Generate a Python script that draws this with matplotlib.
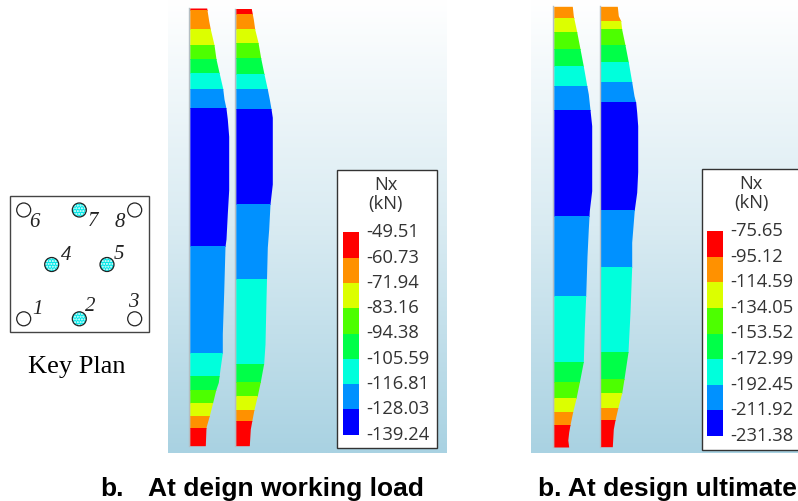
import numpy as np
import matplotlib
matplotlib.use("Agg")
import matplotlib.pyplot as plt
from matplotlib.patches import Rectangle, Circle

plt.rcParams["hatch.linewidth"] = 1.0

band_colors = ["#ff0000", "#ff9100", "#dcff00", "#4dff00", "#00ff48", "#00ffdc", "#0091ff", "#0000ff"]

# legend values
working_levels = ["-49.51", "-60.73", "-71.94", "-83.16", "-94.38", "-105.59", "-116.81", "-128.03", "-139.24"]
ultimate_levels = ["-75.65", "-95.12", "-114.59", "-134.05", "-153.52", "-172.99", "-192.45", "-211.92", "-231.38"]

# colour index of each band from the top of a pile to the bottom
order_red_top = [0, 1, 2, 3, 4, 5, 6, 7, 6, 5, 4, 3, 2, 1, 0]
order_no_red = [1, 2, 3, 4, 5, 6, 7, 6, 5, 4, 3, 2, 1, 0]

# band edges (y) and outline of each pile
w1_edges = [9, 11, 30, 46, 60, 73.5, 89.5, 108.7, 247.4, 354, 377, 391, 404, 417, 429, 446.7]
w1_y = [9, 21.7, 30, 45.7, 60, 73.3, 89.3, 100, 109.3, 120, 137.3, 190.7, 214.7, 240, 247.4, 293.3, 335, 354, 370, 383.3, 391, 403.3, 416.7, 428.3, 446.7]
w1_x = [206.7, 208.7, 210.3, 214, 216, 219, 222.7, 224, 226, 227.3, 228.7, 228.7, 227.3, 226, 225, 223.7, 222.3, 222.3, 220, 218.3, 215.7, 212.7, 209.3, 206, 205.3]

w2_edges = [9.5, 14.5, 30, 44, 59, 75, 90, 110, 205, 280, 364.5, 383, 397, 410.5, 422, 446.7]
w2_y = [9.5, 20, 30, 43.3, 59, 75, 90, 100, 109.7, 118.3, 185, 205, 230, 248.3, 300, 345, 364.3, 382.7, 396.7, 410.3, 422.3, 430, 446.7]
w2_x = [251.3, 253.3, 254.7, 258, 260.7, 264, 267.3, 269.3, 271, 272.3, 272.3, 270, 268.7, 267.3, 266, 265, 263.7, 260.3, 257.3, 254, 251.7, 250.3, 249.3]

u1_edges = [7.3, 19, 33, 49.7, 67, 86.5, 110.7, 216.7, 297, 363, 383.3, 399.3, 412.7, 426, 448]
u1_y = [7.3, 16.7, 32.7, 49.7, 67, 86.3, 95, 110.7, 126.7, 191.7, 211.7, 230, 257, 297, 330, 362.7, 383.3, 399.3, 412.7, 425.7, 433, 441, 448]
u1_x = [572.3, 573.3, 576.7, 580, 583.3, 586.7, 588.3, 590, 591.7, 591.7, 589.3, 588.3, 587, 585.7, 584.3, 583.3, 579.3, 576, 572.7, 570, 568.7, 567.8, 568.7]

u2_edges = [7.3, 22, 30.3, 46, 63, 82.7, 103.3, 210.7, 267.7, 353, 379.7, 394, 409.3, 421, 447.7]
u2_y = [7.3, 16.7, 21.7, 30.3, 46, 63, 82.7, 96.7, 103.3, 113.3, 126.7, 172.7, 193.3, 210.7, 243.3, 267.7, 313.3, 346.7, 353, 379.7, 394, 409.3, 421, 430, 447.7]
u2_x = [617.3, 618.3, 620.7, 621.7, 625, 628.3, 631.7, 634, 635.7, 636.7, 637.7, 637.7, 636.7, 634.3, 631.7, 631.7, 630, 628.3, 628, 624, 621.7, 617.7, 615, 613.3, 612.3]

# key plan
pile_names = ["1", "2", "3", "4", "5", "6", "7", "8"]
pile_x = [23.7, 79.3, 134.7, 51.7, 107, 23.7, 79.3, 134.7]
pile_y = [319.8, 319.8, 319.8, 265.5, 265.5, 211, 211, 211]
pile_shaded = [False, True, False, True, True, False, True, False]
name_x = [37.7, 90.7, 133.3, 66.7, 119, 34.7, 92.7, 120]
name_y = [309.5, 307, 302.5, 255.5, 254.5, 222.5, 221.5, 222.5]

fig = plt.figure(figsize=(7.98, 5.02), dpi=100)
ax = fig.add_axes([0, 0, 1, 1])
ax.set_xlim(0, 798)
ax.set_ylim(502, 0)
ax.axis("off")

bg = matplotlib.colors.LinearSegmentedColormap.from_list("bg", ["#ffffff", "#d9ebf2", "#a9d2e2"])
grad = np.linspace(0, 1, 256).reshape(-1, 1)


def draw_pile(left, edges, order, ys, xs):
    for i, c in enumerate(order):
        poly = ax.fill_betweenx(ys, left, xs, color=band_colors[c], lw=0, zorder=3)
        clip = Rectangle((left, edges[i]), 100, edges[i + 1] - edges[i], transform=ax.transData)
        poly.set_clip_path(clip)
    ax.plot([left - 0.5, left - 0.5], [edges[0], edges[-1]], color="#b4bec4", lw=1.0, zorder=4)


def draw_legend(x0, x1, y0, y1, bar_x, bar_top, bar_bot, title_x, label_x, levels):
    ax.add_patch(Rectangle((x0, y0), x1 - x0, y1 - y0, fc="white", ec="#333333", lw=1.0, zorder=5))
    h = (bar_bot - bar_top) / len(band_colors)
    for i, c in enumerate(band_colors):
        ax.add_patch(Rectangle((bar_x, bar_top + i * h), 16, h, fc=c, ec="none", zorder=6))
    ax.text(title_x, y0 + 14.5, "Nx", ha="center", va="center", fontsize=13.2, color="#333333", zorder=6, family="Open Sans")
    ax.text(title_x, y0 + 33, "(kN)", ha="center", va="center", fontsize=13.2, color="#333333", zorder=6, family="Open Sans")
    for i, lab in enumerate(levels):
        ax.text(label_x, bar_top - 1 + i * h, lab, ha="left", va="center", fontsize=13.2, color="#333333", zorder=6, family="Open Sans")


for p0, p1 in [(168, 447), (531, 798)]:
    ax.imshow(grad, extent=(p0, p1, 454, 0), cmap=bg, aspect="auto", zorder=1)
ax.set_xlim(0, 798)
ax.set_ylim(502, 0)

draw_pile(189.7, w1_edges, order_red_top, w1_y, w1_x)
draw_pile(235.7, w2_edges, order_red_top, w2_y, w2_x)
draw_pile(553.7, u1_edges, order_no_red, u1_y, u1_x)
draw_pile(600, u2_edges, order_no_red, u2_y, u2_x)

draw_legend(337, 437, 170.7, 449, 342.7, 233.3, 435.7, 385.7, 366, working_levels)
draw_legend(701.7, 810, 170, 451, 707, 232.3, 436.7, 751, 730.7, ultimate_levels)

# key plan box
ax.add_patch(Rectangle((9.7, 197.3), 139.6, 135.4, fc="white", ec="#444444", lw=1.0, zorder=2))
for x, y, shaded in zip(pile_x, pile_y, pile_shaded):
    if shaded:
        ax.add_patch(Circle((x, y), 7, fc="#00e8e8", ec="white", hatch="......", lw=0, zorder=3))
    ax.add_patch(Circle((x, y), 7, fc="none", ec="#222222", lw=0.9, zorder=4))
for name, x, y in zip(pile_names, name_x, name_y):
    ax.text(x, y, name, ha="center", va="center", fontsize=15, fontstyle="italic", family="Liberation Serif", color="#222222", zorder=5)
ax.text(76.7, 367.5, "Key Plan", ha="center", va="center", fontsize=19, family="Liberation Serif", color="black")

ax.text(100, 489, "b.", ha="left", va="center", fontsize=19, weight="bold", family="Liberation Sans", color="black")
ax.text(148, 489, "At deign working load", ha="left", va="center", fontsize=19, weight="bold", family="Liberation Sans", color="black")
ax.text(538, 489, "b. At design ultimate", ha="left", va="center", fontsize=19, weight="bold", family="Liberation Sans", color="black", clip_on=True)

fig.savefig("out.png", dpi=100)
